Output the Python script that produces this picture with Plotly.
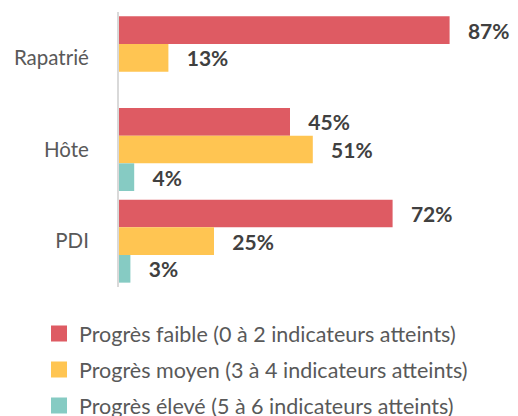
import plotly.graph_objects as go

categories = ["Rapatrié", "Hôte", "PDI"]
faible = [87, 45, 72]
moyen = [13, 51, 25]
eleve = [0, 4, 3]
series_names = [
    "Progrès faible (0 à 2 indicateurs atteints)",
    "Progrès moyen (3 à 4 indicateurs atteints)",
    "Progrès élevé (5 à 6 indicateurs atteints)",
]
colors = ["#DE5B63", "#FFC552", "#86CBC3"]

fig = go.Figure()
for name, vals, col in zip(series_names, [faible, moyen, eleve], colors):
    fig.add_trace(go.Bar(
        y=categories, x=vals, orientation="h", name=name,
        marker=dict(color=col, line=dict(width=0)),
        text=["\u00a0\u00a0\u00a0%d%%" % v if v > 0 else "" for v in vals],
        textposition="outside", cliponaxis=False, constraintext="none",
        textfont=dict(family="Lato", size=21, color="#404040", weight="bold"),
        showlegend=False, hoverinfo="skip",
    ))
for i, (name, col) in enumerate(zip(series_names, colors)):
    fig.add_trace(go.Scatter(
        x=[None], y=[None], mode="markers", name=name,
        marker=dict(symbol="square", size=16, color=col),
        legendgroup="g%d" % i, showlegend=True,
    ))

fig.update_layout(
    width=518, height=416,
    margin=dict(l=119, r=19, t=12, b=129, pad=0, autoexpand=False),
    paper_bgcolor="white", plot_bgcolor="white",
    barmode="group", bargap=0.095, bargroupgap=0,
    font=dict(family="Lato", color="#595959"),
    legend=dict(
        x=-0.2105, y=-0.095,
        xanchor="left", yanchor="top",
        font=dict(family="Lato", size=21.5, color="#595959"),
        tracegroupgap=5, itemwidth=30,
    ),
    xaxis=dict(range=[0, 100], visible=False, fixedrange=True, automargin=False),
    yaxis=dict(
        autorange="reversed", showline=True, linecolor="#D9D9D9", linewidth=2,
        showgrid=False, zeroline=False, ticks="", ticklabelstandoff=24,
        automargin=False, fixedrange=True,
        tickfont=dict(family="Lato", size=20.5, color="#595959"),
    ),
)

fig.write_html("out.html", config={"displayModeBar": False},
               post_script="document.body.style.margin='0';")
